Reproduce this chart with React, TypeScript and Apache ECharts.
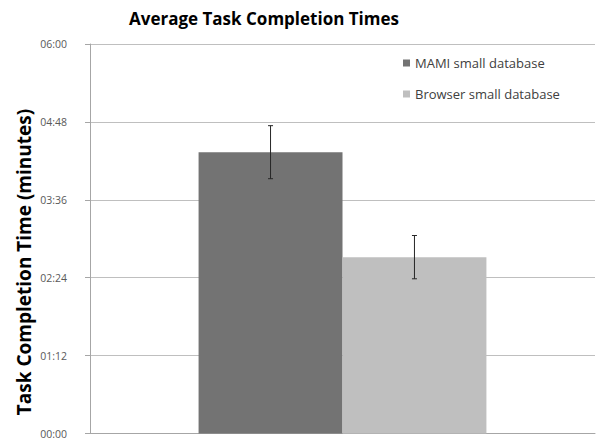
import React, { useEffect, useRef } from "react";
import * as echarts from "echarts";

const categories = ["Small database"];
const seriesNames = ["MAMI small database", "Browser small database"];
const mamiMean = [260];
const mamiErr = [24.5];
const browserMean = [163];
const browserErr = [20];
const yTicksSeconds = [0, 72, 144, 216, 288, 360];

const fmt = (v: number) => {
  const m = Math.floor(v / 60);
  const s = Math.round(v - m * 60);
  return String(m).padStart(2, "0") + ":" + String(s).padStart(2, "0");
};

const GAP = 0.43;

export default function App() {
  const ref = useRef<HTMLDivElement>(null);
  useEffect(() => {
    document.body.style.margin = "0";
    const chart = echarts.init(ref.current!, undefined, { renderer: "svg" });
    const errSeries = (means: number[], errs: number[], side: number) => ({
      type: "custom",
      silent: true,
      z: 10,
      data: means.map((m, i) => [i, m, errs[i]]),
      renderItem: (params: any, api: any) => {
        const cat = api.value(0);
        const mean = api.value(1);
        const err = api.value(2);
        const band = api.size([1, 0])[0];
        const bw = (band * (1 - GAP)) / 2;
        const c = api.coord([cat, mean]);
        const x = c[0] + (side * bw) / 2;
        const top = api.coord([cat, mean + err])[1];
        const bot = api.coord([cat, mean - err])[1];
        const cap = 2.5;
        const st = { stroke: "#262626", lineWidth: 1 };
        return {
          type: "group",
          children: [
            { type: "line", shape: { x1: x, y1: top, x2: x, y2: bot }, style: st },
            { type: "line", shape: { x1: x - cap, y1: top, x2: x + cap, y2: top }, style: st },
            { type: "line", shape: { x1: x - cap, y1: bot, x2: x + cap, y2: bot }, style: st },
          ],
        };
      },
    });
    chart.setOption({
      animation: false,
      textStyle: { fontFamily: "Open Sans" },
      grid: { left: 90, right: 3, top: 44, bottom: 5, containLabel: false },
      legend: {
        data: seriesNames,
        orient: "vertical",
        left: 403,
        top: 55,
        padding: 0,
        itemWidth: 7,
        itemHeight: 7,
        itemGap: 15,
        icon: "rect",
        textStyle: { fontSize: 13, color: "#404040", lineHeight: 16, fontFamily: "Open Sans" },
      },
      xAxis: {
        type: "category",
        data: categories,
        axisLine: { show: true, lineStyle: { color: "#a6a6a6" } },
        axisTick: { show: false },
        axisLabel: { show: false },
      },
      yAxis: {
        type: "value",
        min: yTicksSeconds[0],
        max: yTicksSeconds[yTicksSeconds.length - 1],
        interval: yTicksSeconds[1] - yTicksSeconds[0],
        axisLine: { show: true, lineStyle: { color: "#a6a6a6" } },
        axisTick: { show: true, length: 5, lineStyle: { color: "#a6a6a6" } },
        axisLabel: {
          formatter: (v: number) => fmt(v),
          margin: 23,
          fontSize: 10.5,
          color: "#595959",
          fontFamily: "Open Sans",
        },
        splitLine: { show: true, lineStyle: { color: "#bfbfbf" } },
      },
      series: [
        {
          name: seriesNames[0],
          type: "bar",
          data: mamiMean,
          barGap: "0%",
          barCategoryGap: GAP * 100 + "%",
          itemStyle: { color: "#737373" },
        },
        {
          name: seriesNames[1],
          type: "bar",
          data: browserMean,
          barGap: "0%",
          barCategoryGap: GAP * 100 + "%",
          itemStyle: { color: "#bfbfbf" },
        },
        errSeries(mamiMean, mamiErr, -1),
        errSeries(browserMean, browserErr, 1),
      ],
      graphic: [
        {
          type: "text",
          x: 264,
          y: 18,
          style: {
            text: "Average Task Completion Times",
            fontFamily: "Open Sans",
            fontWeight: "bold",
            fontSize: 17,
            fill: "#000",
            align: "center",
            verticalAlign: "middle",
          },
        },
        {
          type: "text",
          x: 24,
          y: 262,
          rotation: Math.PI / 2,
          style: {
            text: "Task Completion Time (minutes)",
            fontFamily: "Open Sans",
            fontWeight: "bold",
            fontSize: 19,
            fill: "#000",
            align: "center",
            verticalAlign: "middle",
          },
        },
      ],
    });
    return () => chart.dispose();
  }, []);
  return <div ref={ref} style={{ width: 598, height: 439 }} />;
}
